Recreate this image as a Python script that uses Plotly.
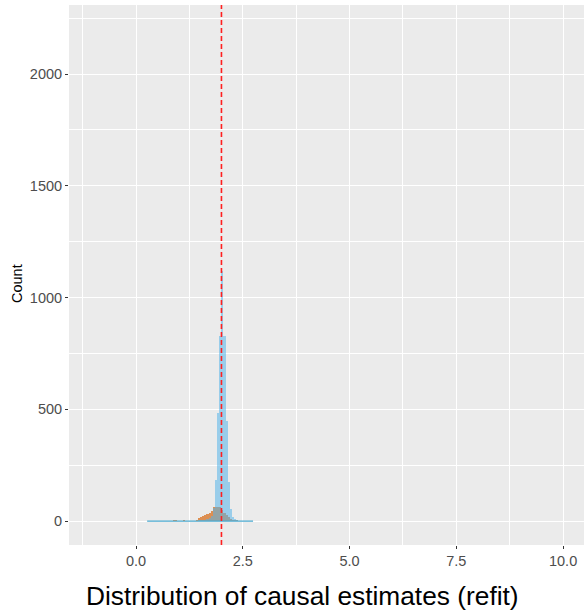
import plotly.graph_objects as go

# ---- data ----
bin_start = 0.26
bin_width = 0.0496
blue_counts = [0, 0, 0, 0, 0, 0, 0, 0, 0, 0,
               0, 0, 1, 1, 0, 0, 0, 1, 1, 1,
               1, 1, 2, 2, 3, 4, 5, 6, 8, 12,
               22, 60, 183, 483, 830, 1118, 828, 447, 174, 55,
               18, 9, 4, 2, 1, 1, 0, 0, 0, 1]
orange_counts = [0, 0, 0, 0, 0, 0, 0, 0, 0, 0,
                 0, 0, 3, 4, 0, 0, 1, 3, 2, 1,
                 1, 2, 2, 5, 13, 20, 23, 27, 31, 36,
                 45, 62, 63, 64, 62, 50, 38, 27, 17, 9,
                 5, 3, 3, 1, 1, 0, 0, 0, 0, 0]
true_effect = 2.0
x_ticks = [0.0, 2.5, 5.0, 7.5, 10.0]
x_tick_labels = ["0.0", "2.5", "5.0", "7.5", "10.0"]
y_ticks = [0, 500, 1000, 1500, 2000]
y_tick_labels = ["0", "500", "1000", "1500", "2000"]

n_bins = len(blue_counts)
centers = [bin_start + bin_width * (i + 0.5) for i in range(n_bins)]
edges_lo = bin_start
edges_hi = bin_start + bin_width * n_bins

fig = go.Figure()
fig.add_trace(go.Bar(x=centers, y=orange_counts, width=bin_width,
                     marker=dict(color="rgba(213,94,0,0.65)", line=dict(width=0)),
                     showlegend=False))
fig.add_trace(go.Bar(x=centers, y=blue_counts, width=bin_width,
                     marker=dict(color="rgba(86,180,233,0.55)", line=dict(width=0)),
                     showlegend=False))
fig.add_trace(go.Scatter(x=[edges_lo, edges_hi], y=[0, 0], mode="lines",
                         line=dict(color="#4AA9CF", width=1.1), showlegend=False,
                         hoverinfo="skip"))

fig.add_shape(type="line", x0=true_effect, x1=true_effect, xref="x",
              y0=0, y1=1, yref="paper",
              line=dict(color="#FF2020", width=1.6, dash="5px,3px"))

W, H = 586, 615
ml, mr, mt, mb = 69, 2, 5, 70
pw = W - ml - mr
ph = H - mt - mb

fig.update_layout(
    width=W, height=H,
    margin=dict(l=ml, r=mr, t=mt, b=mb, autoexpand=False),
    paper_bgcolor="white",
    plot_bgcolor="#EBEBEB",
    barmode="overlay", bargap=0,
    font=dict(family="Liberation Sans, Arial, sans-serif", color="#4D4D4D", size=13),
    xaxis=dict(range=[-1.57, 10.49], tickvals=x_ticks, ticktext=x_tick_labels,
               showgrid=True, gridcolor="white", gridwidth=1.2,
               minor=dict(tick0=1.25, dtick=2.5, showgrid=True, gridcolor="white", gridwidth=0.6),
               zeroline=False, ticks="outside", ticklen=3, tickcolor="#333333", tickwidth=1,
               tickfont=dict(size=14.5, color="#4D4D4D"), showline=False, automargin=False),
    yaxis=dict(range=[-107, 2309], tickvals=y_ticks, ticktext=y_tick_labels,
               showgrid=True, gridcolor="white", gridwidth=1.2,
               minor=dict(tick0=250, dtick=500, showgrid=True, gridcolor="white", gridwidth=0.6),
               zeroline=False, ticks="outside", ticklen=3, tickcolor="#333333", tickwidth=1,
               tickfont=dict(size=14.5, color="#4D4D4D"), showline=False, automargin=False),
    annotations=[
        dict(text="Count", xref="paper", yref="paper", x=(17 - ml) / pw, y=(mt + ph - 284) / ph,
             textangle=-90, showarrow=False, xanchor="center", yanchor="middle",
             font=dict(size=14.5, color="black")),
        dict(text="Distribution of causal estimates (refit)", xref="paper", yref="paper",
             x=(302 - ml) / pw, y=(mt + ph - 596) / ph, showarrow=False,
             xanchor="center", yanchor="middle",
             font=dict(size=26.3, color="black")),
    ],
)

fig.write_html("out.html", config={"displayModeBar": False},
               post_script="document.body.style.margin='0';document.body.style.overflow='hidden';")
